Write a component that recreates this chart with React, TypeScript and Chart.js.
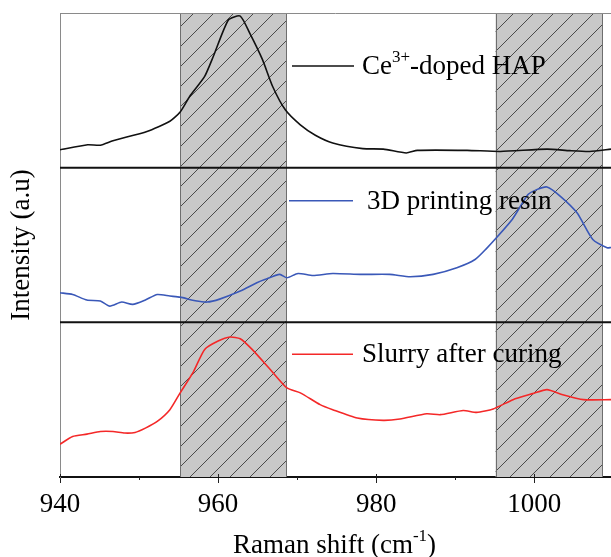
import React, { useEffect, useRef } from "react";
import { Chart, registerables } from "chart.js";

Chart.register(...registerables);

// Raman shift (cm-1) and intensity (a.u., each panel 0..100)
const X_CE = [940.0, 943.5, 945.1, 946.7, 951.0, 953.9, 955.2, 956.4, 958.3, 959.4, 961.3, 962.8, 964.0, 965.6, 966.9, 968.5, 970.4, 972.3, 974.5, 978.3, 980.9, 983.8, 985.2, 991.5, 995.7, 1001.6, 1004.5, 1007.0, 1009.7];
const Y_CE = [11.6, 14.8, 14.5, 17.4, 23.4, 30, 36, 46, 59, 72, 95.5, 98, 87, 70, 52.5, 37.4, 27.7, 21, 16, 12.3, 12.0, 9.5, 11.2, 11.2, 10.5, 12, 11, 10.5, 12];

const X_RESIN = [940.0, 941.6, 943.4, 945.1, 946.3, 947.8, 949.2, 950.8, 952.3, 953.9, 955.2, 957.1, 958.6, 960.2, 962.8, 964.9, 965.9, 967.8, 968.7, 970.1, 972.0, 974.5, 978.0, 981.7, 984.3, 987.2, 990.2, 992.5, 994.0, 995.0, 997.2, 999.2, 1000.3, 1001.6, 1003.3, 1005.4, 1007.4, 1009.2, 1009.7];
const Y_RESIN = [19.1, 18, 14.4, 13.8, 10.5, 13.1, 11.6, 14.5, 18, 17, 16.3, 14, 13.1, 15, 20.2, 25.6, 27.7, 31, 28.8, 31.6, 30.3, 31.6, 31, 31, 29.5, 31, 35.3, 40.6, 48, 53.5, 66.5, 82.6, 85.8, 87.5, 81.5, 70.8, 53.5, 48.2, 48.4];

const X_SLURRY = [940.0, 941.6, 943.4, 945.1, 946.7, 948.2, 949.5, 950.8, 952.3, 953.9, 955.2, 956.8, 958.3, 960.0, 961.5, 962.8, 964.3, 966.6, 968.7, 970.4, 972.9, 974.5, 977.6, 980.9, 983.0, 986.4, 988.1, 991.0, 992.7, 994.8, 997.3, 999.8, 1001.6, 1003.6, 1006.2, 1009.7];
const Y_SLURRY = [21.2, 26.2, 27.7, 29.4, 29.4, 28.4, 28.8, 31.6, 35.9, 43.5, 54.4, 67.3, 82.5, 87.9, 90.5, 89.4, 82.5, 69.5, 57.6, 54.4, 46.8, 43.5, 38.1, 36.6, 37.5, 40.9, 40.3, 43, 41.8, 44, 50, 53.9, 56.5, 53.2, 50, 50];

const X_MIN = 940;
const X_MAX = 1009.7;
const X_TICK_STEP = 10;
const X_LABEL_STEP = 20;

// Hatched bands (cm-1)
const BANDS: [number, number][] = [
  [955.2, 968.6],
  [995.1, 1008.6],
];

const SERIES_LABELS = ["Ce3+-doped HAP", "3D printing resin", "Slurry after curing"];
const SERIES_COLORS = ["#111111", "#3a58b8", "#f42828"];

const FONT = "'Liberation Serif', 'Times New Roman', serif";

const pts = (xs: number[], ys: number[]) => xs.map((x, i) => ({ x, y: ys[i] }));
const isMajor = (v: number) => Math.abs(v % X_LABEL_STEP) < 1e-6;

const panelPlugin = {
  id: "panelDecor",
  beforeDatasetsDraw(chart: any) {
    const { ctx, chartArea, scales } = chart;
    const xs = scales.x;
    ctx.save();
    for (const [a, b] of BANDS) {
      const x0 = xs.getPixelForValue(a);
      const x1 = xs.getPixelForValue(b);
      const top = chartArea.top;
      const bot = chartArea.bottom;
      ctx.fillStyle = "#c8c8c8";
      ctx.fillRect(x0, top, x1 - x0, bot - top);
      ctx.save();
      ctx.beginPath();
      ctx.rect(x0, top, x1 - x0, bot - top);
      ctx.clip();
      ctx.strokeStyle = "#2a2a2a";
      ctx.lineWidth = 0.8;
      const sp = 20;
      const start = Math.floor((x0 + top) / sp) * sp - sp + 7;
      for (let c = start; c < x1 + bot + sp; c += sp) {
        ctx.beginPath();
        ctx.moveTo(c - bot, bot);
        ctx.lineTo(c - top, top);
        ctx.stroke();
      }
      ctx.restore();
      ctx.strokeStyle = "#6e6e6e";
      ctx.lineWidth = 1;
      ctx.beginPath();
      ctx.moveTo(Math.round(x0) + 0.5, top);
      ctx.lineTo(Math.round(x0) + 0.5, bot);
      ctx.moveTo(Math.round(x1) + 0.5, top);
      ctx.lineTo(Math.round(x1) + 0.5, bot);
      ctx.stroke();
    }
    ctx.restore();
  },
  afterDatasetsDraw(chart: any) {
    const { ctx, chartArea, scales } = chart;
    ctx.save();
    // top frame
    ctx.strokeStyle = "#8a8a8a";
    ctx.lineWidth = 1;
    ctx.beginPath();
    ctx.moveTo(chartArea.left, chartArea.top + 0.5);
    ctx.lineTo(chartArea.right, chartArea.top + 0.5);
    ctx.stroke();
    // panel separators
    ctx.strokeStyle = "#111";
    ctx.lineWidth = 2;
    for (const id of ["yTop", "yMid"]) {
      const y = scales[id].bottom;
      ctx.beginPath();
      ctx.moveTo(chartArea.left, y);
      ctx.lineTo(chartArea.right, y);
      ctx.stroke();
    }
    // minor ticks (short) and small inward part of major ticks
    const xs = scales.x;
    ctx.strokeStyle = "#222";
    ctx.lineWidth = 1;
    for (const t of xs.ticks) {
      const px = Math.round(xs.getPixelForValue(t.value)) + 0.5;
      ctx.beginPath();
      if (isMajor(t.value)) {
        ctx.moveTo(px, chartArea.bottom - 3);
        ctx.lineTo(px, chartArea.bottom);
      } else {
        ctx.moveTo(px, chartArea.bottom);
        ctx.lineTo(px, chartArea.bottom + 3);
      }
      ctx.stroke();
    }
    ctx.restore();
  },
  afterDraw(chart: any) {
    const { ctx, scales } = chart;
    ctx.save();
    ctx.textBaseline = "middle";
    ctx.fillStyle = "#000";
    const entries = [
      { id: "yTop", dy: 53, lx0: 292, lx1: 354, tx: 362, parts: [["Ce", false], ["3+", true], ["-doped HAP", false]] },
      { id: "yMid", dy: 33, lx0: 289, lx1: 353, tx: 367, parts: [["3D printing resin", false]] },
      { id: "yBot", dy: 32, lx0: 292, lx1: 353, tx: 362, parts: [["Slurry after curing", false]] },
    ];
    entries.forEach((e, i) => {
      const y = scales[e.id].top + e.dy;
      ctx.strokeStyle = SERIES_COLORS[i];
      ctx.lineWidth = 1.5;
      ctx.beginPath();
      ctx.moveTo(e.lx0, y);
      ctx.lineTo(e.lx1, y);
      ctx.stroke();
      let x = e.tx;
      for (const [t, sup] of e.parts as [string, boolean][]) {
        ctx.font = sup ? `17px ${FONT}` : `27px ${FONT}`;
        ctx.fillText(t, x, sup ? y - 8 : y + 1);
        x += ctx.measureText(t).width;
      }
    });
    // x axis title with superscript
    const xs = scales.x;
    ctx.textBaseline = "alphabetic";
    const main = "Raman shift (cm";
    const sup = "-1";
    const end = ")";
    ctx.font = `27px ${FONT}`;
    const w1 = ctx.measureText(main).width;
    ctx.font = `17px ${FONT}`;
    const w2 = ctx.measureText(sup).width;
    let x = 233;
    const by = xs.bottom - 4;
    ctx.font = `27px ${FONT}`;
    ctx.fillText(main, x, by);
    x += w1;
    ctx.font = `17px ${FONT}`;
    ctx.fillText(sup, x, by - 12);
    x += w2;
    ctx.font = `27px ${FONT}`;
    ctx.fillText(end, x, by);
    ctx.restore();
  },
};

export default function App() {
  const ref = useRef<HTMLCanvasElement | null>(null);
  useEffect(() => {
    document.body.style.margin = "0";
    if (!ref.current) return;
    const yBase = (id: string) => ({
      type: "linear",
      position: "left",
      stack: "panels",
      stackWeight: 1,
      min: 0,
      max: 100,
      ticks: { display: false },
      grid: { display: false, drawTicks: false },
      border: { display: true, color: "#8a8a8a", width: 1 },
      afterFit: (s: any) => { s.width = 60; },
      title: id === "yMid"
        ? { display: true, text: "Intensity (a.u)", color: "#000", font: { family: FONT, size: 27 }, padding: { top: 6, bottom: 0 } }
        : { display: false },
    });
    const chart = new Chart(ref.current, {
      type: "line",
      data: {
        datasets: [
          { label: SERIES_LABELS[0], data: pts(X_CE, Y_CE), yAxisID: "yTop", borderColor: SERIES_COLORS[0], borderWidth: 1.6, pointRadius: 0, tension: 0.2, fill: false },
          { label: SERIES_LABELS[1], data: pts(X_RESIN, Y_RESIN), yAxisID: "yMid", borderColor: SERIES_COLORS[1], borderWidth: 1.6, pointRadius: 0, tension: 0.2, fill: false },
          { label: SERIES_LABELS[2], data: pts(X_SLURRY, Y_SLURRY), yAxisID: "yBot", borderColor: SERIES_COLORS[2], borderWidth: 1.6, pointRadius: 0, tension: 0.2, fill: false },
        ],
      },
      options: {
        animation: false,
        responsive: false,
        maintainAspectRatio: false,
        devicePixelRatio: 1,
        layout: { padding: { top: 13, right: 0, bottom: 0, left: 0 } },
        plugins: { legend: { display: false }, tooltip: { enabled: false } },
        scales: {
          x: {
            type: "linear",
            min: X_MIN,
            max: X_MAX,
            afterFit: (s: any) => { s.height = 80; },
            ticks: {
              stepSize: X_TICK_STEP,
              includeBounds: false,
              autoSkip: false,
              maxRotation: 0,
              color: "#000",
              padding: 6,
              font: { family: FONT, size: 27 },
              callback: (v: any) => (isMajor(Number(v)) ? String(v) : ""),
            },
            grid: {
              display: true,
              drawOnChartArea: false,
              drawTicks: true,
              tickLength: 6,
              color: (c: any) => (c.tick && isMajor(c.tick.value) ? "#222" : "rgba(0,0,0,0)"),
            },
            border: { display: true, color: "#111", width: 2 },
          },
          yBot: yBase("yBot"),
          yMid: yBase("yMid"),
          yTop: yBase("yTop"),
        } as any,
      },
      plugins: [panelPlugin],
    } as any);
    return () => chart.destroy();
  }, []);
  return (
    <div style={{ width: 611, height: 557 }}>
      <canvas ref={ref} width={611} height={557} style={{ display: "block", width: 611, height: 557 }} />
    </div>
  );
}
